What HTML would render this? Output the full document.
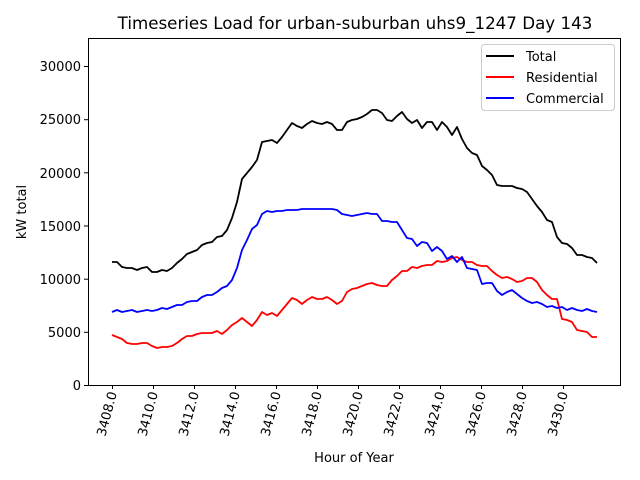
<!DOCTYPE html>
<html><head><meta charset="utf-8"><style>body{margin:0;background:#fff}svg{display:block}text{font-family:"DejaVu Sans","Liberation Sans",sans-serif;fill:#000}</style></head><body>
<svg width="640" height="480" viewBox="0 0 640 480" xmlns="http://www.w3.org/2000/svg">
<rect width="640" height="480" fill="#fff"/>
<text x="355" y="29" font-size="16.7" text-anchor="middle">Timeseries Load for urban-suburban uhs9_1247  Day 143</text>
<g fill="none" stroke-width="1.8" stroke-linejoin="round">
<polyline stroke="#000" points="112,262 117,262 122,267 127,268 132,268 137,270 142,268 147,267 152,272 157,272 162,270 167,271 172,268 177,263 182,259 187,254 192,252 197,250 202,245 207,243 212,242 217,237 222,236 227,230 232,218 237,202 242,179 247,173 252,167 257,160 262,142 267,141 272,140 277,143 282,137 287,130 292,123 297,126 302,128 307,124 312,121 317,123 322,124 327,122 332,124 337,130 342,130 347,122 352,120 357,119 362,117 367,114 372,110 377,110 382,113 387,120 392,121 397,116 402,112 407,119 412,123 417,120 422,128 427,122 432,122 437,130 442,122 447,127 452,135 457,127 462,139 467,148 472,153 477,155 482,166 487,170 492,175 497,185 502,186 507,186 512,186 517,188 522,189 527,192 532,199 537,206 542,212 547,220 552,222 557,237 562,243 567,244 572,248 577,255 582,255 587,257 592,258 597,263"/>
<polyline stroke="#f00" points="112,335 117,337 122,339 127,343 132,344 137,344 142,343 147,343 152,346 157,348 162,347 167,347 172,346 177,343 182,339 187,336 192,336 197,334 202,333 207,333 212,333 217,331 222,334 227,330 232,325 237,322 242,318 247,322 252,326 257,320 262,312 267,315 272,313 277,316 282,310 287,304 292,298 297,300 302,304 307,300 312,297 317,299 322,299 327,297 332,300 337,304 342,301 347,292 352,289 357,288 362,286 367,284 372,283 377,285 382,286 387,286 392,280 397,276 402,271 407,271 412,267 417,268 422,266 427,265 432,265 437,261 442,262 447,261 452,258 457,257 462,260 467,262 472,262 477,265 482,266 487,266 492,271 497,275 502,278 507,277 512,279 517,282 522,281 527,278 532,278 537,282 542,290 547,295 552,299 557,299 562,319 567,320 572,322 577,330 582,331 587,332 592,337 597,337"/>
<polyline stroke="#00f" points="112,312 117,310 122,312 127,311 132,310 137,312 142,311 147,310 152,311 157,310 162,308 167,309 172,307 177,305 182,305 187,302 192,301 197,301 202,297 207,295 212,295 217,292 222,288 227,286 232,280 237,268 242,250 247,240 252,229 257,225 262,214 267,211 272,212 277,211 282,211 287,210 292,210 297,210 302,209 307,209 312,209 317,209 322,209 327,209 332,209 337,210 342,214 347,215 352,216 357,215 362,214 367,213 372,214 377,214 382,221 387,221 392,222 397,222 402,230 407,238 412,239 417,246 422,242 427,243 432,251 437,247 442,251 447,259 452,256 457,262 462,257 467,268 472,269 477,270 482,284 487,283 492,283 497,291 502,295 507,292 512,290 517,294 522,298 527,301 532,303 537,302 542,304 547,307 552,306 557,308 562,307 567,310 572,308 577,310 582,311 587,309 592,311 597,312"/>
</g>
<rect x="88.5" y="38.5" width="532" height="347" fill="none" stroke="#000" stroke-width="1"/>
<g stroke="#000" stroke-width="1">
<line x1="84" y1="385.5" x2="88" y2="385.5"/><line x1="84" y1="332.3" x2="88" y2="332.3"/><line x1="84" y1="279.2" x2="88" y2="279.2"/><line x1="84" y1="226" x2="88" y2="226"/><line x1="84" y1="172.8" x2="88" y2="172.8"/><line x1="84" y1="119.7" x2="88" y2="119.7"/><line x1="84" y1="66.5" x2="88" y2="66.5"/>
</g>
<g font-size="13" text-anchor="end">
<text x="81" y="390">0</text><text x="81" y="337">5000</text><text x="81" y="284">10000</text><text x="81" y="231">15000</text><text x="81" y="178">20000</text><text x="81" y="124">25000</text><text x="81" y="71">30000</text>
</g>
<g stroke="#000" stroke-width="1">
<line x1="112.5" y1="385" x2="112.5" y2="389"/><line x1="153.5" y1="385" x2="153.5" y2="389"/><line x1="194.5" y1="385" x2="194.5" y2="389"/><line x1="235.5" y1="385" x2="235.5" y2="389"/><line x1="276.5" y1="385" x2="276.5" y2="389"/><line x1="317.5" y1="385" x2="317.5" y2="389"/><line x1="358.5" y1="385" x2="358.5" y2="389"/><line x1="399.5" y1="385" x2="399.5" y2="389"/><line x1="440.5" y1="385" x2="440.5" y2="389"/><line x1="481.5" y1="385" x2="481.5" y2="389"/><line x1="522.5" y1="385" x2="522.5" y2="389"/><line x1="563.5" y1="385" x2="563.5" y2="389"/>
</g>
<g font-size="13" text-anchor="end">
<text transform="translate(117,393) rotate(-75)">3408.0</text>
<text transform="translate(158,393) rotate(-75)">3410.0</text>
<text transform="translate(199,393) rotate(-75)">3412.0</text>
<text transform="translate(240,393) rotate(-75)">3414.0</text>
<text transform="translate(281,393) rotate(-75)">3416.0</text>
<text transform="translate(322,393) rotate(-75)">3418.0</text>
<text transform="translate(363,393) rotate(-75)">3420.0</text>
<text transform="translate(404,393) rotate(-75)">3422.0</text>
<text transform="translate(445,393) rotate(-75)">3424.0</text>
<text transform="translate(486,393) rotate(-75)">3426.0</text>
<text transform="translate(527,393) rotate(-75)">3428.0</text>
<text transform="translate(568,393) rotate(-75)">3430.0</text>
</g>
<text x="354" y="462" font-size="13" text-anchor="middle">Hour of Year</text>
<text transform="translate(26,212) rotate(-90)" font-size="13" text-anchor="middle">kW total</text>
<rect x="481.5" y="44.5" width="133" height="66" rx="3" fill="#fff" fill-opacity="0.8" stroke="#ccc"/>
<g stroke-width="2"><line x1="486" y1="56" x2="514" y2="56" stroke="#000"/><line x1="486" y1="77" x2="514" y2="77" stroke="#f00"/><line x1="486" y1="98" x2="514" y2="98" stroke="#00f"/></g>
<g font-size="13"><text x="526" y="61">Total</text><text x="526" y="82">Residential</text><text x="526" y="103">Commercial</text></g>
</svg>
</body></html>
